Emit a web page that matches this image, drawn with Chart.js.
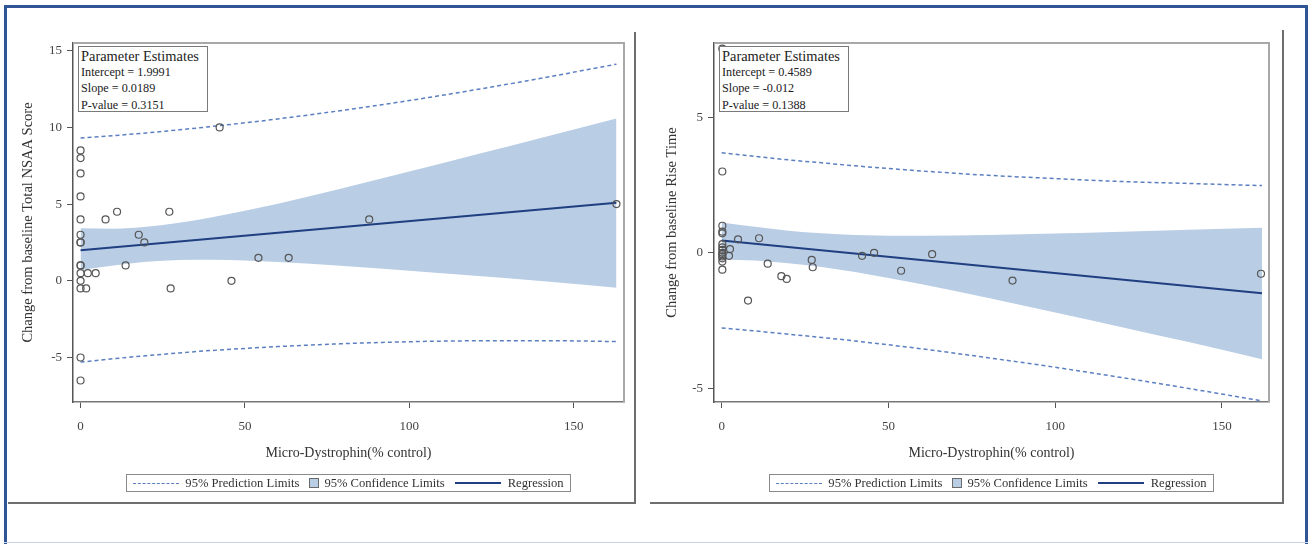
<!DOCTYPE html>
<html>
<head>
<meta charset="utf-8">
<script src="https://cdn.jsdelivr.net/npm/chart.js@4.4.1/dist/chart.umd.min.js"></script>
<style>
  html, body { margin: 0; padding: 0; background: #fff; }
  #page { position: relative; width: 1313px; height: 544px; overflow: hidden; font-family: 'Liberation Serif', serif; }
  .outer { position: absolute; left: 4px; top: 5px; width: 1298px; height: 560px; border: 3px solid #2f5597; }
  .bottomline { position: absolute; left: 4px; top: 542px; width: 1304px; height: 1px; background: #c8d2e6; }
  canvas { position: absolute; }
  .rule { position: absolute; background: #6e6e6e; }
  .pbox { position: absolute; width: 125px; height: 62px; border: 1.5px solid #7a7a7a; background: #fff;
          padding: 1px 1px 1px 2px; color: #222; font-size: 12.2px; line-height: 16.2px; white-space: nowrap; overflow: hidden; }
  .pbox .ph { font-size: 14.4px; }
  .legend { position: absolute; width: 443px; height: 16px; border: 1.5px solid #8a8a8a; display: flex;
            align-items: center; justify-content: center; font-size: 12.6px; color: #333; white-space: nowrap; }
  .legend .dash { display: inline-block; width: 46px; border-top: 1.4px dashed #5b7fc0; margin-right: 6px; }
  .legend .sq { display: inline-block; width: 8px; height: 8px; background: #b9cde5; border: 1px solid #6a6a6a; margin: 0 5px 0 10px; }
  .legend .solid { display: inline-block; width: 46px; border-top: 2px solid #1f3f80; margin: 0 7px 0 10px; }
</style>
</head>
<body>
<div id="page">
  <div class="outer"></div>
  <div class="bottomline"></div>

  <canvas id="nsaaChart" width="628" height="440" style="left:8px;top:30px;width:628px;height:440px;"></canvas>
  <canvas id="riseChart" width="633" height="440" style="left:650px;top:30px;width:633px;height:440px;"></canvas>

  <!-- panel rules -->
  <div class="rule" style="left:634px;top:32px;width:2px;height:472px;"></div>
  <div class="rule" style="left:8px;top:502px;width:628px;height:2px;"></div>
  <div class="rule" style="left:1282px;top:30px;width:2px;height:474px;"></div>
  <div class="rule" style="left:650px;top:502px;width:634px;height:2px;"></div>

  <div class="pbox" style="left:78px;top:46px;">
    <div class="ph">Parameter Estimates</div>
    <div>Intercept = 1.9991</div>
    <div>Slope = 0.0189</div>
    <div>P-value = 0.3151</div>
  </div>
  <div class="pbox" style="left:719px;top:46px;">
    <div class="ph">Parameter Estimates</div>
    <div>Intercept = 0.4589</div>
    <div>Slope = -0.012</div>
    <div>P-value = 0.1388</div>
  </div>

  <div class="legend" style="left:126px;top:474px;">
    <span class="dash"></span><span>95% Prediction Limits</span>
    <span class="sq"></span><span>95% Confidence Limits</span>
    <span class="solid"></span><span>Regression</span>
  </div>
  <div class="legend" style="left:769px;top:474px;">
    <span class="dash"></span><span>95% Prediction Limits</span>
    <span class="sq"></span><span>95% Confidence Limits</span>
    <span class="solid"></span><span>Regression</span>
  </div>
</div>

<script>
// Tick labels
const xTicks = [0, 50, 100, 150];
const nsaaYTicks = [-5, 0, 5, 10, 15];
const riseYTicks = [-5, 0, 5];

// Left panel: Change from baseline Total NSAA Score
const nsaaX = [0, 0, 0, 0, 0, 0, 0, 0, 0, 0, 0, 0, 0, 0, 0,
               7.6, 11.1, 27.0, 42.3, 17.7, 19.4, 13.7, 2.2, 4.6, 1.7, 27.4, 45.9, 54.1, 63.3, 87.8, 163];
const nsaaY = [8.5, 8.0, 7.0, 5.5, 4.0, 3.0, 2.5, 2.5, 1.0, 1.0, 0.5, 0, -0.5, -5.0, -6.5,
               4.0, 4.5, 4.5, 10.0, 3.0, 2.5, 1.0, 0.5, 0.5, -0.5, -0.5, 0, 1.5, 1.5, 4.0, 5.0];
const nsaaBandX = [0, 10, 20, 30, 40, 60, 80, 100, 120, 140, 163];
const nsaaCiUpper = [3.42, 3.40, 3.53, 3.78, 4.14, 5.03, 6.05, 7.12, 8.21, 9.31, 10.58];
const nsaaCiLower = [0.70, 0.99, 1.24, 1.36, 1.38, 1.23, 0.97, 0.66, 0.33, -0.01, -0.45];
const nsaaPiUpper = [9.30, 9.46, 9.64, 9.84, 10.06, 10.55, 11.12, 11.75, 12.45, 13.20, 14.12];
const nsaaPiLower = [-5.30, -5.08, -4.88, -4.70, -4.54, -4.29, -4.10, -3.97, -3.91, -3.90, -3.96];
const nsaaFitX = [0, 163];
const nsaaFitY = [1.999, 5.08];

// Right panel: Change from baseline Rise Time
const riseX = [0.2, 0.2, 0.2, 0.2, 0.2, 0.2, 0.2, 0.2, 0.2, 0.2, 0.2, 0.2, 0.2, 0.2,
               2.5, 2.2, 4.9, 11.2, 7.9, 13.8, 17.9, 19.5, 27.0, 27.3, 42.1, 45.7, 53.8, 63.1, 87.2, 161.7];
const riseY = [7.53, 3.0, 1.0, 0.78, 0.72, 0.32, 0.2, 0.11, 0, -0.05, -0.13, -0.2, -0.32, -0.62,
               0.14, -0.11, 0.5, 0.54, -1.76, -0.4, -0.86, -0.96, -0.26, -0.53, -0.11, 0, -0.66, -0.05, -1.02, -0.77];
const riseBandX = [0, 10, 20, 30, 40, 60, 80, 100, 120, 140, 162];
const riseCiUpper = [1.12, 0.96, 0.82, 0.72, 0.66, 0.63, 0.66, 0.71, 0.78, 0.85, 0.93];
const riseCiLower = [-0.24, -0.28, -0.38, -0.52, -0.71, -1.16, -1.66, -2.20, -2.74, -3.29, -3.92];
const risePiUpper = [3.69, 3.56, 3.43, 3.32, 3.21, 3.02, 2.86, 2.74, 2.63, 2.56, 2.48];
const risePiLower = [-2.77, -2.88, -3.00, -3.12, -3.25, -3.54, -3.87, -4.22, -4.60, -5.00, -5.46];
const riseFitX = [0, 162];
const riseFitY = [0.459, -1.485];

// Styles
const BAND = '#b9cde5';
const PRED = '#5b7fc0';
const FIT = '#1f3f80';
const FONT = "'Liberation Serif', serif";

function pairs(xs, ys) {
    return xs.map((x, i) => ({ x: x, y: ys[i] }));
}

// top/right frame of the plot area
const plotFrame = {
    id: 'plotFrame',
    afterDraw(chart) {
        const { ctx, chartArea: a } = chart;
        ctx.save();
        ctx.strokeStyle = '#a8a8a8';
        ctx.lineWidth = 2;
        ctx.beginPath();
        ctx.moveTo(a.left, a.top);
        ctx.lineTo(a.right, a.top);
        ctx.lineTo(a.right, a.bottom);
        ctx.stroke();
        ctx.restore();
    }
};

function buildChart(canvasId, cfg) {
    const line = (xs, ys, extra) => Object.assign({
        data: pairs(xs, ys), showLine: true, pointRadius: 0,
        cubicInterpolationMode: 'monotone'
    }, extra);

    return new Chart(document.getElementById(canvasId), {
        type: 'scatter',
        data: {
            datasets: [
                line(cfg.bandX, cfg.ciUpper, { fill: '+1', backgroundColor: BAND, borderColor: 'rgba(0,0,0,0)', borderWidth: 0, order: 5 }),
                line(cfg.bandX, cfg.ciLower, { fill: false, borderColor: 'rgba(0,0,0,0)', borderWidth: 0, order: 6 }),
                line(cfg.bandX, cfg.piUpper, { fill: false, borderColor: PRED, borderWidth: 1.5, borderDash: [4, 3], order: 3 }),
                line(cfg.bandX, cfg.piLower, { fill: false, borderColor: PRED, borderWidth: 1.5, borderDash: [4, 3], order: 3 }),
                line(cfg.fitX, cfg.fitY, { fill: false, borderColor: FIT, borderWidth: 2, order: 2 }),
                {
                    data: pairs(cfg.px, cfg.py),
                    pointStyle: 'circle', pointRadius: 3.5,
                    pointBorderColor: '#555', pointBackgroundColor: 'rgba(0,0,0,0)', pointBorderWidth: 1.2,
                    order: 0
                }
            ]
        },
        options: {
            responsive: false,
            animation: false,
            events: [],
            layout: { padding: { left: cfg.padLeft, top: 13, right: cfg.padRight, bottom: 8 } },
            plugins: { legend: { display: false }, tooltip: { enabled: false } },
            scales: {
                x: {
                    type: 'linear', min: cfg.xMin, max: cfg.xMax,
                    afterBuildTicks: s => { s.ticks = xTicks.map(v => ({ value: v })); },
                    afterFit: s => { s.height = 60; },
                    grid: { drawOnChartArea: false, drawTicks: true, tickLength: 6, color: '#555' },
                    border: { color: '#777', width: 1.5 },
                    ticks: { font: { family: FONT, size: 13 }, color: '#444', padding: 11, maxRotation: 0 },
                    title: { display: true, text: 'Micro-Dystrophin(% control)', font: { family: FONT, size: 14 }, color: '#333', padding: 0 }
                },
                y: {
                    type: 'linear', min: cfg.yMin, max: cfg.yMax,
                    afterBuildTicks: s => { s.ticks = cfg.yTicks.map(v => ({ value: v })); },
                    afterFit: s => { s.width = cfg.yWidth; },
                    grid: { drawOnChartArea: false, drawTicks: true, tickLength: 6, color: '#555' },
                    border: { color: '#555', width: 1.5 },
                    ticks: { font: { family: FONT, size: 13 }, color: '#444', padding: 5 },
                    title: { display: true, text: cfg.yTitle, font: { family: FONT, size: 14.5 }, color: '#333', padding: 0 }
                }
            }
        },
        plugins: [plotFrame]
    });
}

buildChart('nsaaChart', {
    px: nsaaX, py: nsaaY,
    bandX: nsaaBandX, ciUpper: nsaaCiUpper, ciLower: nsaaCiLower, piUpper: nsaaPiUpper, piLower: nsaaPiLower,
    fitX: nsaaFitX, fitY: nsaaFitY,
    xMin: -2.3, xMax: 165.3, yMin: -7.9, yMax: 15.5, yTicks: nsaaYTicks,
    yTitle: 'Change from baseline Total NSAA Score',
    padLeft: 11, padRight: 12, yWidth: 54
});

buildChart('riseChart', {
    px: riseX, py: riseY,
    bandX: riseBandX, ciUpper: riseCiUpper, ciLower: riseCiLower, piUpper: risePiUpper, piLower: risePiLower,
    fitX: riseFitX, fitY: riseFitY,
    xMin: -2.3, xMax: 164.1, yMin: -5.5, yMax: 7.74, yTicks: riseYTicks,
    yTitle: 'Change from baseline Rise Time',
    padLeft: 13, padRight: 14, yWidth: 51
});
</script>
</body>
</html>
